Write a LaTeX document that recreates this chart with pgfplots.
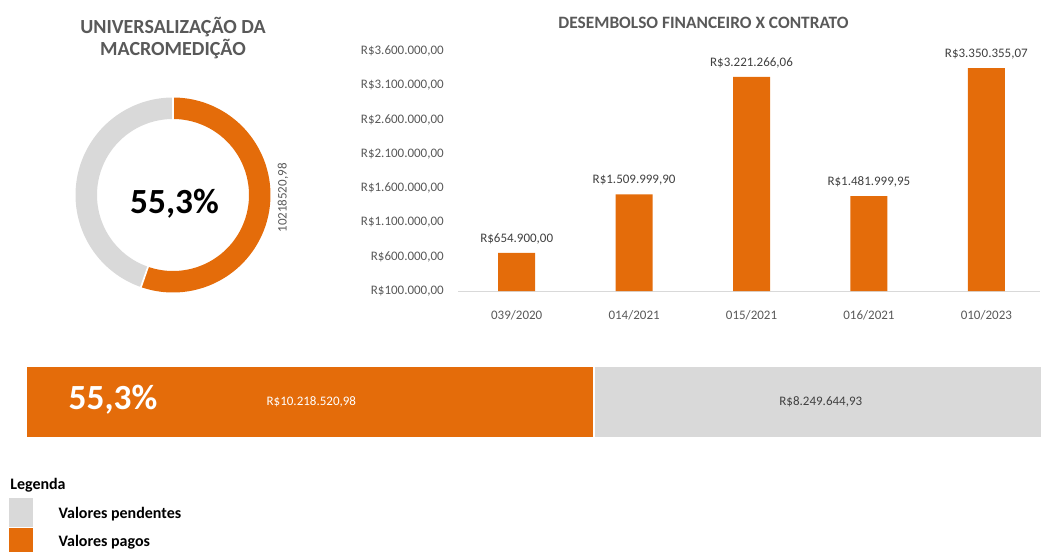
\documentclass[border=0pt]{standalone}
\usepackage{pgfplots}
\pgfplotsset{compat=1.18}
\usepackage{pgfplotstable}
\usepackage{fontspec}
\setmainfont{Carlito}
\definecolor{orangeC}{HTML}{E46C0A}
\definecolor{grayC}{HTML}{D9D9D9}
\definecolor{txtgray}{HTML}{595959}
\definecolor{dkgray}{HTML}{404040}
\definecolor{lineC}{HTML}{D9D9D9}

\pgfplotstableread{
x y lab
0 654900.00 654.900,00
1 1509999.90 1.509.999,90
2 3221266.06 3.221.266,06
3 1481999.95 1.481.999,95
4 3350355.07 3.350.355,07
}\bardata

% totals in millions: paid, pending
\pgfmathsetmacro{\pago}{10.21852098}
\pgfmathsetmacro{\pend}{8.24964493}
\pgfmathsetmacro{\ang}{360*\pago/(\pago+\pend)}
\pgfmathsetmacro{\e}{90-\ang}

\newcommand{\fs}[1]{\fontsize{#1}{#1}\selectfont}

\begin{document}
\begin{tikzpicture}
\useasboundingbox (0,0) rectangle (780.75pt,413.25pt);

% ---------- Donut ----------
\begin{axis}[
  at={(129.75pt,267pt)}, anchor=center,
  scale only axis, width=146.25pt, height=146.25pt,
  xmin=-1, xmax=1, ymin=-1, ymax=1,
  hide axis, clip=false]
\addplot[draw=grayC, line width=16.125pt, domain=-270:\e, samples=150, no markers] ({0.8897*cos(x)},{0.8897*sin(x)});
\addplot[draw=orangeC, line width=16.125pt, domain=\e:90, samples=150, no markers] ({0.8897*cos(x)},{0.8897*sin(x)});
\draw[white, line width=1.3pt] (axis cs:0,0.76) -- (axis cs:0,1.02);
\draw[white, line width=1.3pt] (axis cs:{0.76*cos(\e)},{0.76*sin(\e)}) -- (axis cs:{1.02*cos(\e)},{1.02*sin(\e)});
\end{axis}
\node[anchor=base, font=\bfseries\fs{26.5}] at (130.875pt,253.5pt) {55,3\%};
\node[rotate=90, font=\fs{9.75}, text=txtgray, inner sep=0pt] at (212.25pt,264.75pt) {10218520,98};
\node[anchor=base, font=\bfseries\fs{15}, text=txtgray] at (129.75pt,388pt) {UNIVERSALIZAÇÃO DA};
\node[anchor=base, font=\bfseries\fs{15}, text=txtgray] at (129.75pt,371.5pt) {MACROMEDIÇÃO};

% ---------- Bar chart ----------
\node[anchor=base, font=\bfseries\fs{13}, text=txtgray] at (527.6pt,392pt) {DESEMBOLSO FINANCEIRO X CONTRATO};
\begin{axis}[
  at={(343.5pt,195pt)}, anchor=south west,
  scale only axis, width=436.5pt, height=182.57pt,
  xmin=-0.5, xmax=4.457, ymin=100000, ymax=3650000,
  ybar, bar width=27.75pt,
  axis x line*=bottom, axis y line*=left,
  x axis line style={draw=lineC, line width=0.75pt},
  y axis line style={draw=none},
  tick style={draw=none},
  scaled y ticks=false,
  xtick={0,1,2,3,4},
  xticklabels={039/2020,014/2021,015/2021,016/2021,010/2023},
  ytick={100000,600000,1100000,1600000,2100000,2600000,3100000,3600000},
  yticklabels={R\$100.000\mbox{,}00,R\$600.000\mbox{,}00,R\$1.100.000\mbox{,}00,R\$1.600.000\mbox{,}00,R\$2.100.000\mbox{,}00,R\$2.600.000\mbox{,}00,R\$3.100.000\mbox{,}00,R\$3.600.000\mbox{,}00},
  /pgf/number format/assume math mode=true,
  xticklabel style={anchor=base, inner sep=0pt, yshift=-16.9pt, font=\fs{9.75}, text=txtgray},
  yticklabel style={anchor=east, inner sep=0pt, xshift=-10.5pt, font=\fs{9.75}, text=txtgray},
  point meta=explicit symbolic,
  nodes near coords={R\$\pgfplotspointmeta},
  every node near coord/.append style={anchor=base, inner sep=0pt, yshift=8pt, font=\fs{9.75}, text=dkgray},
]
\addplot[fill=orangeC, draw=none] table[x=x, y=y, meta=lab] {\bardata};
\end{axis}

% ---------- Horizontal stacked bar ----------
\begin{axis}[
  at={(19.5pt,84.75pt)}, anchor=south west,
  scale only axis, width=761.25pt, height=54.375pt,
  xmin=0, xmax=18.26, ymin=-0.5, ymax=0.5,
  xbar stacked, bar width=54.375pt,
  hide axis]
\addplot[fill=orangeC, draw=white, line width=1.9pt] coordinates {(10.21852098,0)};
\addplot[fill=grayC, draw=white, line width=1.9pt] coordinates {(8.24964493,0)};
\end{axis}
\node[anchor=base, font=\bfseries\fs{26.5}, text=white] at (84.75pt,106.3pt) {55,3\%};
\node[anchor=base, font=\fs{9.75}, text=white] at (233.5pt,109pt) {R\$10.218.520,98};
\node[anchor=base, font=\fs{9.75}, text=dkgray] at (615.6pt,109pt) {R\$8.249.644,93};

% ---------- Legend ----------
\node[anchor=base west, inner sep=0pt, font=\bfseries\fs{12}] at (7.5pt,46.5pt) {Legenda};
\fill[grayC] (7pt,18pt) rectangle (25pt,40pt);
\fill[orangeC] (7pt,-1pt) rectangle (25pt,17.6pt);
\node[anchor=base west, inner sep=0pt, font=\bfseries\fs{12}] at (43.7pt,24.5pt) {Valores pendentes};
\node[anchor=base west, inner sep=0pt, font=\bfseries\fs{12}] at (43.7pt,3.2pt) {Valores pagos};
\end{tikzpicture}
\end{document}
